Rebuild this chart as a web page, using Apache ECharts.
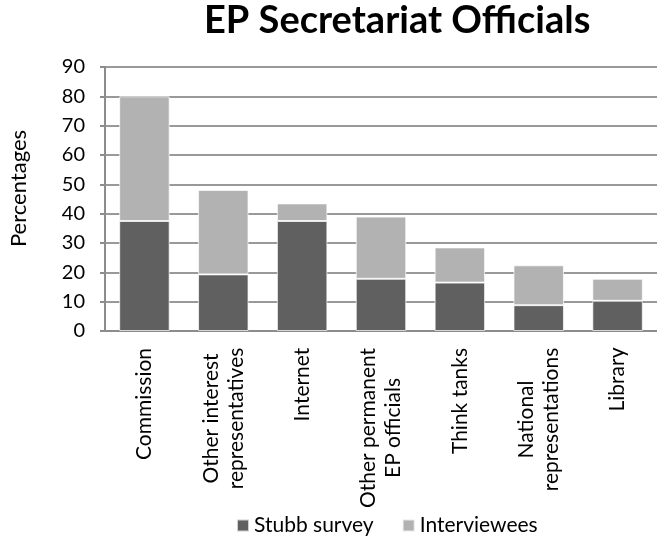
<!DOCTYPE html>
<html>
<head>
<meta charset="utf-8">
<script src="https://cdn.jsdelivr.net/npm/echarts@6/dist/echarts.min.js"></script>
<style>
  html, body { margin: 0; padding: 0; background: #fff; }
  #chart { width: 657px; height: 538px; }
</style>
</head>
<body>
<div id="chart"></div>
<script>
// Sources of information used by EP Secretariat officials (percentages)
const categories = [
  'Commission',
  'Other interest\nrepresentatives',
  'Internet',
  'Other permanent\nEP officials',
  'Think tanks',
  'National\nrepresentations',
  'Library'
];
const stubbSurvey = [37.5, 19.3, 37.5, 17.8, 16.5, 8.8, 10.3];
const interviewees = [42.5, 28.8, 6, 21.2, 12, 13.6, 7.5];
const yTicks = [0, 10, 20, 30, 40, 50, 60, 70, 80, 90];

const FONT = 'Lato';
const LABEL_SIZE = 21;
const TITLE_SIZE = 38;
const TITLE_TEXT = 'EP Secretariat Officials';

const measureCtx = document.createElement('canvas').getContext('2d');

// Title centred over x = 392
measureCtx.font = 'bold ' + TITLE_SIZE + 'px ' + FONT;
const titleLeft = Math.round(392 - measureCtx.measureText(TITLE_TEXT).width / 2);

// Multi-line category labels: lines centred on each other, block anchored at the axis
measureCtx.font = LABEL_SIZE + 'px ' + FONT;
const labelRich = {};
categories.forEach((name, i) => {
  const w = Math.max(...name.split('\n').map(s => measureCtx.measureText(s).width));
  labelRich['c' + i] = {
    width: Math.ceil(w) + 1,
    align: 'center',
    fontSize: LABEL_SIZE,
    fontFamily: FONT,
    color: '#000',
    lineHeight: 25
  };
});

const chart = echarts.init(document.getElementById('chart'), null, { renderer: 'canvas' });
chart.setOption({
  backgroundColor: '#fff',
  animation: false,
  title: {
    text: TITLE_TEXT,
    left: titleLeft,
    top: -3,
    textStyle: { fontFamily: FONT, fontWeight: 'bold', fontSize: TITLE_SIZE, color: '#000' }
  },
  legend: {
    data: ['Stubb survey', 'Interviewees'],
    left: 231,
    top: 510,
    itemWidth: 12,
    itemHeight: 12,
    itemGap: 28,
    icon: 'rect',
    textStyle: { fontFamily: FONT, fontSize: LABEL_SIZE, color: '#000' }
  },
  grid: { left: 103, right: -11, top: 67, bottom: 207, containLabel: false },
  xAxis: {
    type: 'category',
    data: categories,
    axisLine: { show: true, lineStyle: { color: '#8c8c8c', width: 2 } },
    axisTick: { show: false },
    axisLabel: {
      rotate: 90,
      margin: 16,
      interval: 0,
      formatter: (value, idx) => value.split('\n').map(s => '{c' + idx + '|' + s + '}').join('\n'),
      rich: labelRich
    }
  },
  yAxis: {
    type: 'value',
    min: 0,
    max: 90,
    interval: 10,
    name: 'Percentages',
    nameLocation: 'middle',
    nameGap: 75,
    nameTextStyle: {
      fontFamily: FONT,
      fontSize: 22,
      color: '#000',
      padding: [0, 0, 0, 21]
    },
    axisLine: { show: true, lineStyle: { color: '#8c8c8c', width: 2 } },
    axisTick: { show: true, length: 5, lineStyle: { color: '#8c8c8c', width: 2 } },
    axisLabel: {
      margin: 20,
      fontFamily: FONT,
      fontSize: 20,
      color: '#000',
      formatter: v => (yTicks.includes(v) ? String(v) : '')
    },
    splitLine: { show: true, lineStyle: { color: '#999', width: 2 } }
  },
  series: [
    {
      name: 'Stubb survey',
      type: 'bar',
      stack: 'total',
      data: stubbSurvey,
      barCategoryGap: '36%',
      itemStyle: { color: '#606060', borderColor: 'rgba(255,255,255,0.7)', borderWidth: 1 }
    },
    {
      name: 'Interviewees',
      type: 'bar',
      stack: 'total',
      data: interviewees,
      barCategoryGap: '36%',
      itemStyle: { color: '#b2b2b2', borderColor: 'rgba(255,255,255,0.7)', borderWidth: 1 }
    }
  ]
});
</script>
</body>
</html>
